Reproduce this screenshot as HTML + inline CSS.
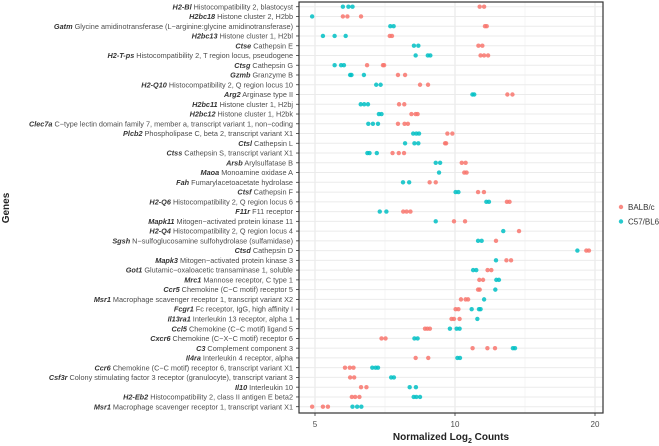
<!DOCTYPE html>
<html><head><meta charset="utf-8"><style>
body{margin:0;background:#fff;}
svg{display:block;font-family:"Liberation Sans",sans-serif;}
</style></head><body>
<svg id="chart" width="659" height="446"></svg>
<script>
const genes=["H2-Bl","H2bc18","Gatm","H2bc13","Ctse","H2-T-ps","Ctsg","Gzmb","H2-Q10","Arg2","H2bc11","H2bc12","Clec7a","Plcb2","Ctsl","Ctss","Arsb","Maoa","Fah","Ctsf","H2-Q6","F11r","Mapk11","H2-Q4","Sgsh","Ctsd","Mapk3","Got1","Mrc1","Ccr5","Msr1","Fcgr1","Il13ra1","Ccl5","Cxcr6","C3","Il4ra","Ccr6","Csf3r","Il10","H2-Eb2","Msr1"];
const descs=["Histocompatibility 2, blastocyst","Histone cluster 2, H2bb","Glycine amidinotransferase (L\u2212arginine:glycine amidinotransferase)","Histone cluster 1, H2bl","Cathepsin E","Histocompatibility 2, T region locus, pseudogene","Cathepsin G","Granzyme B","Histocompatibility 2, Q region locus 10","Arginase type II","Histone cluster 1, H2bj","Histone cluster 1, H2bk","C\u2212type lectin domain family 7, member a, transcript variant 1, non\u2212coding","Phospholipase C, beta 2, transcript variant X1","Cathepsin L","Cathepsin S, transcript variant X1","Arylsulfatase B","Monoamine oxidase A","Fumarylacetoacetate hydrolase","Cathepsin F","Histocompatibility 2, Q region locus 6","F11 receptor","Mitogen\u2212activated protein kinase 11","Histocompatibility 2, Q region locus 4","N\u2212sulfoglucosamine sulfohydrolase (sulfamidase)","Cathepsin D","Mitogen\u2212activated protein kinase 3","Glutamic\u2212oxaloacetic transaminase 1, soluble","Mannose receptor, C type 1","Chemokine (C\u2212C motif) receptor 5","Macrophage scavenger receptor 1, transcript variant X2","Fc receptor, IgG, high affinity I","Interleukin 13 receptor, alpha 1","Chemokine (C\u2212C motif) ligand 5","Chemokine (C\u2212X\u2212C motif) receptor 6","Complement component 3","Interleukin 4 receptor, alpha","Chemokine (C\u2212C motif) receptor 6, transcript variant X1","Colony stimulating factor 3 receptor (granulocyte), transcript variant 3","Interleukin 10","Histocompatibility 2, class II antigen E beta2","Macrophage scavenger receptor 1, transcript variant X1"];
const balbc=[[11.3,11.55],[5.74,5.87,6.28],[11.6,11.7],[7.24,7.32],[11.23,11.45],[11.35,11.55,11.78],[6.47,7.0,7.04],[7.54,7.81],[8.41,8.75],[12.96,13.29],[7.58,7.78],[8.06,8.23,8.31],[7.54,7.79,7.92],[9.63,9.87],[9.52,9.57],[7.34,7.57,7.77],[10.34,10.54],[10.47,10.59],[8.82,9.09],[11.21,11.54],[12.93,13.1],[7.74,7.87,8.02],[9.95,10.51],[13.73],[12.25],[19.16,19.41],[12.9,13.2],[11.75,11.97],[11.28,11.49],[11.21,11.3],[10.3,10.54,10.67],[10.03,10.17],[9.83,9.95,10.23],[8.62,8.72,8.83],[6.95,7.09],[10.91,11.74,12.19],[8.23,8.76],[5.8,5.94,6.05],[5.95,6.07],[6.28,6.45],[6.0,6.1,6.23],[4.93,5.2,5.33]];
const c57bl6=[[5.74,5.9,6.02],[4.93],[7.26,7.38],[5.2,5.51,5.82],[8.16,8.34],[8.23,8.74,8.85],[5.51,5.69,5.77],[5.95,5.99,6.37],[6.77,6.92],[10.9,11.0],[6.27,6.38,6.5],[6.86,6.95],[6.51,6.66,6.83],[8.13,8.26,8.37],[7.81,8.18,8.34],[6.48,6.55,6.79],[9.09,9.29],[9.24],[7.73,7.97],[10.03,10.17],[11.68,11.83],[6.89,7.12],[9.09],[12.7],[11.21,11.41],[18.33],[12.25],[10.94,11.11],[12.27,12.43],[12.21],[11.55],[10.86,11.26,11.35],[11.17],[9.75,10.08,10.23],[8.18,8.31],[13.32,13.46],[10.12,10.25],[6.64,6.75,6.83],[7.29,7.39],[7.99,8.24],[8.15,8.26,8.41],[6.02,6.16,6.29]];
const xTicks=[5,10,20];
const xMinor=[7.071,14.142];
const legendLabels=["BALB/c","C57/BL6"];

const NS="http://www.w3.org/2000/svg";
const svg=document.getElementById('chart');
const L=299,R=603,T=2,B=413;
const xs=v=>315+140*Math.log2(v/5);
const ys=i=>6.7+i*(400/(genes.length-1));
function mk(tag,attrs,parent){const e=document.createElementNS(NS,tag);for(const k in attrs)e.setAttribute(k,attrs[k]);(parent||svg).appendChild(e);return e;}
const grid=mk('g',{});


xMinor.forEach(v=>{mk('line',{x1:xs(v),x2:xs(v),y1:T,y2:B,stroke:'#F0F0F0','stroke-width':0.6},grid);});
xTicks.forEach(v=>{mk('line',{x1:xs(v),x2:xs(v),y1:T,y2:B,stroke:'#E6E6E6','stroke-width':1},grid);});
genes.forEach((g,i)=>{mk('line',{x1:L,x2:R,y1:ys(i),y2:ys(i),stroke:'#EBEBEB','stroke-width':1},grid);});
const frame=mk('rect',{x:L,y:T,width:R-L,height:B-T,fill:'none',stroke:'#333','stroke-width':1.2});


// y labels
genes.forEach((g,i)=>{
  const t=mk('text',{x:293,y:ys(i)+2.6,'text-anchor':'end','font-size':7.3,fill:'#4D4D4D'});
  
  
  const b=mk('tspan',{'font-weight':'bold','font-style':'italic',fill:'#333'},t);b.textContent=g;
  const d=mk('tspan',{},t);d.textContent=' '+descs[i];
  mk('line',{x1:296,x2:L,y1:ys(i),y2:ys(i),stroke:'#333','stroke-width':0.8});
});
xTicks.forEach(v=>{
  mk('line',{x1:xs(v),x2:xs(v),y1:B,y2:B+3,stroke:'#333','stroke-width':0.8});
  const t=mk('text',{x:xs(v),y:427,'text-anchor':'middle','font-size':8,fill:'#4D4D4D'});
  
  
  t.textContent=v;
});
const cols=['#F8766D','#00BFC4'];
[balbc,c57bl6].forEach((ser,s)=>{
  const g=mk('g',{fill:cols[s],'fill-opacity':0.85});
  
  
  ser.forEach((vals,i)=>vals.forEach(v=>{
    const c=mk('circle',{cx:xs(v),cy:ys(i),r:2.2},g);
    
    
  }));
});
// titles
const xt=mk('text',{x:451,y:440,'text-anchor':'middle','font-size':10,'font-weight':'bold',fill:'#222'});


xt.innerHTML='Normalized Log<tspan font-size="7" dy="3">2</tspan><tspan dy="-3"> Counts</tspan>';
const yt=mk('text',{x:0,y:0,transform:'translate(9,208) rotate(-90)','text-anchor':'middle','font-size':10,'font-weight':'bold',fill:'#222'});


yt.textContent='Genes';
legendLabels.forEach((lab,i)=>{
  const g=mk('g',{});
  
  
  mk('circle',{cx:621,cy:207+i*14.5,r:2.2,fill:cols[i],'fill-opacity':0.85},g);
  const t=mk('text',{x:628,y:210+i*14.5,'font-size':8,fill:'#333'},g);t.textContent=lab;
});
</script>
</body></html>
